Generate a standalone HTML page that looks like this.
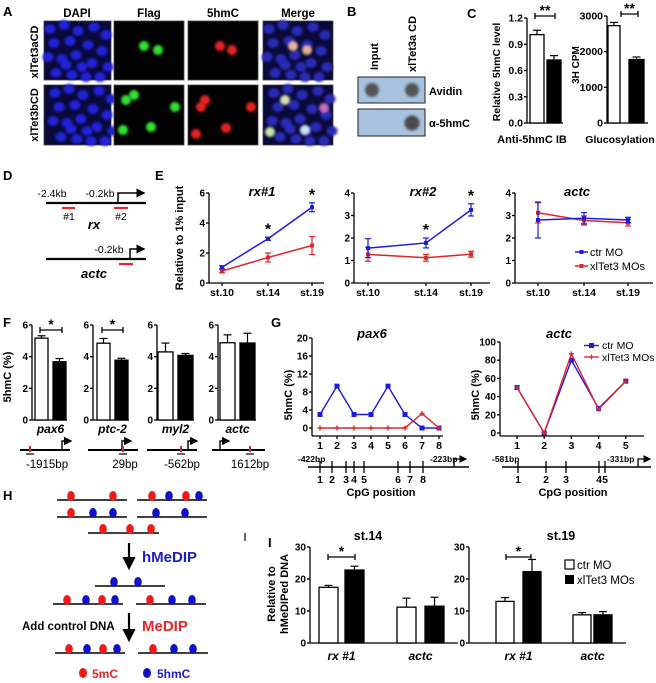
<!DOCTYPE html>
<html><head><meta charset="utf-8">
<style>
html,body{margin:0;padding:0;background:#fff;}
svg{display:block;font-family:"Liberation Sans",Arial,sans-serif;}
</style></head>
<body>
<svg id="fig" width="656" height="683" viewBox="0 0 656 683" xmlns="http://www.w3.org/2000/svg">
<defs>
<filter id="blur" x="-50%" y="-50%" width="200%" height="200%"><feGaussianBlur stdDeviation="1.4"/></filter>
<marker id="ah" markerWidth="6" markerHeight="6" refX="5" refY="3" orient="auto"><path d="M0,0 L6,3 L0,6 Z" fill="#000"/></marker>
</defs>
</svg>
<script>
// ---------------- data ----------------
const cGroups = ['ctr', 'xlTet3'];
const cIB = [1.01, 0.72];
const cIBErr = [0.05, 0.05];
const cIBTicks = [0, 0.3, 0.6, 0.9, 1.2];
const cGlu = [2730, 1780];
const cGluErr = [90, 70];
const cGluTicks = [0, 1000, 2000, 3000];

const eStages = ['st.10', 'st.14', 'st.19'];
const rx1Ctr = [1.05, 2.95, 5.05];
const rx1CtrErr = [0.1, 0.1, 0.3];
const rx1Tet = [0.8, 1.7, 2.5];
const rx1TetErr = [0.12, 0.3, 0.6];
const rx2Ctr = [1.55, 1.78, 3.25];
const rx2CtrErr = [0.42, 0.22, 0.27];
const rx2Tet = [1.27, 1.12, 1.28];
const rx2TetErr = [0.3, 0.15, 0.13];
const eActcCtr = [2.8, 2.88, 2.8];
const eActcCtrErr = [0.8, 0.25, 0.12];
const eActcTet = [3.12, 2.78, 2.68];
const eActcTetErr = [0.45, 0.2, 0.15];
const rx1Ticks = [0, 2, 4, 6];
const rx2Ticks = [0, 1, 2, 3, 4];

const fGenes = ['pax6', 'ptc-2', 'myl2', 'actc'];
const fBp = ['-1915bp', '29bp', '-562bp', '1612bp'];
const fCtr = [5.17, 4.85, 4.3, 4.88];
const fCtrErr = [0.15, 0.3, 0.56, 0.5];
const fTet = [3.68, 3.78, 4.08, 4.86];
const fTetErr = [0.2, 0.12, 0.12, 0.62];
const fTicks = [0, 2, 4, 6];

const gPax6Pos = [1, 2, 3, 4, 5, 6, 7, 8];
const gPax6Ctr = [3, 9.3, 3, 3, 9.3, 3, 0, 0];
const gPax6Tet = [0, 0, 0, 0, 0, 0, 3.2, 0];
const gPax6Ticks = [0, 4, 8, 12, 16, 20];
const gActcPos = [1, 2, 3, 4, 5];
const gActcCtr = [50, 0, 80, 27, 57];
const gActcTet = [50, 0, 87, 26, 57];
const gActcTicks = [0, 20, 40, 60, 80, 100];

const iGenes = ['rx #1', 'actc'];
const iSt14Ctr = [17.4, 11.2];
const iSt14CtrErr = [0.6, 2.8];
const iSt14Tet = [22.8, 11.5];
const iSt14TetErr = [1.2, 2.8];
const iSt19Ctr = [13, 8.8];
const iSt19CtrErr = [1.2, 0.7];
const iSt19Tet = [22.3, 8.8];
const iSt19TetErr = [3.8, 1.0];
const iTicks = [0, 10, 20, 30];

// ---------------- helpers ----------------
const NS = 'http://www.w3.org/2000/svg';
const svg = document.getElementById('fig');
const BLUE = '#1c1ce0', RED = '#e3262b';
function mk(tag, attrs, name) {
  const el = document.createElementNS(NS, tag);
  for (const k in attrs) el.setAttribute(k, attrs[k]);
  
  
  svg.appendChild(el);
  return el;
}
function line(x1, y1, x2, y2, name, stroke, w) {
  return mk('line', {x1: x1, y1: y1, x2: x2, y2: y2, stroke: stroke || '#000', 'stroke-width': w || 1.3}, name);
}
function txt(x, y, s, name, o) {
  o = o || {};
  const el = mk('text', {x: x, y: y, 'font-size': o.size || 11, 'font-weight': o.weight || 'bold',
    'font-style': o.italic ? 'italic' : 'normal', fill: o.fill || '#000', 'text-anchor': o.anchor || 'start'}, name);
  if (o.rot) el.setAttribute('transform', 'rotate(-90 ' + x + ' ' + y + ')');
  el.textContent = s;
  return el;
}
function yAxis(ax, y0, yTop, max, ticks, name, fmt, fs) {
  const sy = v => y0 - v / max * (y0 - yTop);
  line(ax, y0, ax, yTop, name + '-y-axis');
  ticks.forEach(t => {
    line(ax - 3, sy(t), ax, sy(t), name + '-y-tick');
    txt(ax - 4, sy(t) + 3.5, fmt ? fmt(t) : String(t), name + '-y-tick-label', {size: fs || 10, anchor: 'end'});
  });
  return sy;
}
function errBar(x, y1, y2, name, color, cap) {
  line(x, y1, x, y2, name, color, 1.2);
  line(x - cap, y2, x + cap, y2, name + '-cap', color, 1.2);
}
function bar(x, w, y0, yv, fill, name) {
  return mk('rect', {x: x, y: yv, width: w, height: y0 - yv, fill: fill, stroke: '#000', 'stroke-width': 1.3}, name);
}
function sigBracket(x1, x2, y, s, name) {
  line(x1, y, x2, y, name + '-line');
  line(x1, y - 3, x1, y + 3, name + '-tick');
  line(x2, y - 3, x2, y + 3, name + '-tick');
  txt((x1 + x2) / 2, y - 1, s, name + '-star', {size: 14, anchor: 'middle'});
}

// ---------------- panel labels ----------------
[['A', 3, 16], ['B', 347, 16], ['C', 467, 18], ['D', 3, 180], ['E', 155, 180], ['F', 3, 327], ['G', 271, 327], ['H', 3, 500], ['I', 268, 547]].forEach(p => {
  txt(p[1], p[2], p[0], 'panel-label-' + p[0].toLowerCase(), {size: 13});
});

// ---------------- panel A (microscopy) ----------------
const aHeads = [['DAPI', 77], ['Flag', 149], ['5hmC', 223], ['Merge', 298]];
aHeads.forEach(h => txt(h[1], 17, h[0], 'column-header', {size: 11.5, anchor: 'middle'}));
txt(38, 52, 'xlTet3aCD', 'row-label-xltet3acd', {size: 11, anchor: 'middle', rot: true});
txt(38, 115, 'xlTet3bCD', 'row-label-xltet3bcd', {size: 11, anchor: 'middle', rot: true});
const aCols = [44, 114, 188, 263];
const aRows = [[21, 80], [85, 145]];
const dapiSpots = [[6,8],[20,4],[34,10],[50,6],[62,14],[10,22],[26,20],[44,24],[58,30],[4,36],[18,38],[32,34],[48,42],[64,46],[12,52],[28,54],[42,56],[56,56],[22,44],[38,46]];
const greenSpots = [[[144,46],[158,50]], [[134,95],[126,100],[175,107],[123,130],[151,127]]];
const redSpots = [[[220,46],[232,50]], [[205,100],[201,107],[251,107],[196,134],[226,128]]];
const mergeSpots = [[[293,46,'#e8b39a'],[307,50,'#e0b090']], [[285,100,'#d0e0b0'],[324,108,'#c070c0'],[270,132,'#c8e0a8'],[305,130,'#d0e0f0']]];
aRows.forEach((r, ri) => {
  aCols.forEach((cx, ci) => {
    const w = ci === 0 ? 67 : 70;
    const bg = (ci === 0 || ci === 3) ? '#0a0a3a' : '#020202';
    mk('rect', {x: cx, y: r[0], width: w, height: r[1] - r[0], fill: bg, stroke: '#444', 'stroke-width': 0.8}, 'micrograph-' + ['dapi','flag','5hmc','merge'][ci]);
    if (ci === 0 || ci === 3) {
      dapiSpots.forEach(s => mk('ellipse', {cx: cx + s[0] + (ri * 5) % 9, cy: r[0] + s[1], rx: 5.5, ry: 5, fill: ci === 0 ? '#2020d8' : '#2a2ab8', filter: 'url(#blur)'}, 'nucleus'));
    }
  });
  greenSpots[ri].forEach(s => mk('ellipse', {cx: s[0], cy: s[1], rx: 5, ry: 5, fill: '#30e030', filter: 'url(#blur)'}, 'flag-signal'));
  redSpots[ri].forEach(s => mk('ellipse', {cx: s[0], cy: s[1], rx: 5, ry: 5, fill: '#e82020', filter: 'url(#blur)'}, '5hmc-signal'));
  mergeSpots[ri].forEach(s => mk('ellipse', {cx: s[0], cy: s[1], rx: 5, ry: 5, fill: s[2], filter: 'url(#blur)'}, 'merge-signal'));
});

// ---------------- panel B (dot blot) ----------------
txt(378, 70, 'Input', 'blot-label-input', {size: 11, rot: true});
txt(416, 72, 'xlTet3a CD', 'blot-label-xltet3a', {size: 11, rot: true});
mk('rect', {x: 358, y: 77, width: 67, height: 26, fill: '#a8c2df', stroke: '#222', 'stroke-width': 1}, 'blot-avidin');
mk('rect', {x: 358, y: 109, width: 67, height: 27, fill: '#a8c2df', stroke: '#222', 'stroke-width': 1}, 'blot-5hmc');
mk('circle', {cx: 372, cy: 90, r: 7, fill: '#555', filter: 'url(#blur)'}, 'dot-input-avidin');
mk('circle', {cx: 412, cy: 90, r: 7, fill: '#555', filter: 'url(#blur)'}, 'dot-xltet3a-avidin');
mk('circle', {cx: 412, cy: 123, r: 7.5, fill: '#4a4a4a', filter: 'url(#blur)'}, 'dot-xltet3a-5hmc');
txt(429, 95, 'Avidin', 'blot-row-label-avidin', {size: 11});
txt(429, 127, 'α-5hmC', 'blot-row-label-5hmc', {size: 11});

// ---------------- panel C ----------------
(function () {
  const y0 = 123, yTop = 18;
  const sy1 = yAxis(527, y0, yTop, 1.2, cIBTicks, 'c-ib', t => t.toFixed(1), 10.5);
  const bx1 = [530, 547];
  line(527, y0, 563, y0, 'c-ib-x-axis');
  cIB.forEach((v, i) => {
    bar(bx1[i], 14, y0, sy1(v), i ? '#000' : '#fff', 'c-ib-bar-' + cGroups[i]);
    errBar(bx1[i] + 7, sy1(v), sy1(v + cIBErr[i]), 'c-ib-error', '#000', 4);
  });
  sigBracket(535, 555, 16, '**', 'c-ib-sig');
  txt(500, 72, 'Relative 5hmC level', 'c-ib-y-title', {size: 10.5, anchor: 'middle', rot: true});
  txt(532, 143, 'Anti-5hmC IB', 'c-ib-x-title', {size: 11, anchor: 'middle'});

  const sy2 = yAxis(607, y0, 16, 3000, cGluTicks, 'c-glu', null, 10.5);
  const bx2 = [608, 629];
  line(607, y0, 648, y0, 'c-glu-x-axis');
  cGlu.forEach((v, i) => {
    bar(bx2[i], i ? 15 : 12, y0, sy2(v), i ? '#000' : '#fff', 'c-glu-bar-' + cGroups[i]);
    errBar(bx2[i] + (i ? 7.5 : 6), sy2(v), sy2(v + cGluErr[i]), 'c-glu-error', '#000', 4);
  });
  sigBracket(621, 638, 14, '**', 'c-glu-sig');
  txt(579, 65, '3H CPM', 'c-glu-y-title', {size: 10, anchor: 'middle', rot: true});
  txt(620, 143, 'Glucosylation', 'c-glu-x-title', {size: 10.5, anchor: 'middle'});
})();

// ---------------- panel D (schematics) ----------------
line(46, 203, 146, 203, 'rx-gene-line', '#000', 2.2);
txt(52, 197, '-2.4kb', 'rx-label-2-4kb', {size: 10.5, weight: 'normal', anchor: 'middle'});
txt(100, 197, '-0.2kb', 'rx-label-0-2kb', {size: 10.5, weight: 'normal', anchor: 'middle'});
mk('path', {d: 'M118,203 V193 H144', fill: 'none', stroke: '#000', 'stroke-width': 1.5, 'marker-end': 'url(#ah)'}, 'rx-tss-arrow');
line(62, 208, 75, 208, 'rx-amplicon-1', RED, 2.2);
line(114, 208, 128, 208, 'rx-amplicon-2', RED, 2.2);
txt(69, 220, '#1', 'rx-amplicon-1-label', {size: 10.5, weight: 'normal', anchor: 'middle'});
txt(121, 220, '#2', 'rx-amplicon-2-label', {size: 10.5, weight: 'normal', anchor: 'middle'});
txt(94, 229, 'rx', 'rx-gene-name', {size: 13, italic: true, anchor: 'middle'});
line(46, 259, 146, 259, 'actc-gene-line', '#000', 2.2);
txt(109, 253, '-0.2kb', 'actc-label-0-2kb', {size: 10.5, weight: 'normal', anchor: 'middle'});
mk('path', {d: 'M130,259 V249 H144', fill: 'none', stroke: '#000', 'stroke-width': 1.5, 'marker-end': 'url(#ah)'}, 'actc-tss-arrow');
line(119, 264, 133, 264, 'actc-amplicon', RED, 2.2);
txt(94, 278, 'actc', 'actc-gene-name', {size: 13, italic: true, anchor: 'middle'});

// ---------------- panel E (line charts) ----------------
function lineChart(cfg, ctr, ctrErr, tet, tetErr) {
  const sy = yAxis(cfg.ax, cfg.y0, cfg.yTop, cfg.max, cfg.ticks, cfg.name);
  line(cfg.ax, cfg.y0, cfg.xEnd, cfg.y0, cfg.name + '-x-axis');
  const sx = i => cfg.xs[0] + i * (cfg.xs[1] - cfg.xs[0]) * (i === 2 ? (cfg.xs[2] - cfg.xs[0]) / (2 * (cfg.xs[1] - cfg.xs[0])) : 1);
  eStages.forEach((s, i) => {
    line(sx(i), cfg.y0, sx(i), cfg.y0 + 3, cfg.name + '-x-tick');
    txt(sx(i), cfg.y0 + 13, s, cfg.name + '-x-tick-label', {size: 10.5, anchor: 'middle'});
  });
  [[tet, tetErr, RED], [ctr, ctrErr, BLUE]].forEach((ser, k) => {
    const pts = ser[0].map((v, i) => sx(i) + ',' + sy(v)).join(' ');
    mk('polyline', {points: pts, fill: 'none', stroke: ser[2], 'stroke-width': 1.5}, cfg.name + (k ? '-ctr-line' : '-xltet3-line'));
    ser[0].forEach((v, i) => {
      errBar(sx(i), sy(v - ser[1][i]), sy(v + ser[1][i]), cfg.name + '-error', ser[2], 3);
      line(sx(i) - 3, sy(v - ser[1][i]), sx(i) + 3, sy(v - ser[1][i]), cfg.name + '-error-cap', ser[2], 1.2);
      mk('rect', {x: sx(i) - 2, y: sy(v) - 2, width: 4, height: 4, fill: ser[2]}, cfg.name + (k ? '-ctr-point' : '-xltet3-point'));
    });
  });
  txt(cfg.titleX, 196, cfg.title, cfg.name + '-title', {size: 13, italic: true, anchor: 'middle'});
  (cfg.stars || []).forEach(i => txt(sx(i), sy(ctr[i] + ctrErr[i]) - 3, '*', cfg.name + '-star', {size: 16, anchor: 'middle'}));
  return sx;
}
lineChart({name: 'e-rx1', ax: 209, y0: 283, yTop: 193, max: 6, ticks: rx1Ticks, xs: [222, 268, 312], xEnd: 324, title: 'rx#1', titleX: 262, stars: [1, 2]}, rx1Ctr, rx1CtrErr, rx1Tet, rx1TetErr);
lineChart({name: 'e-rx2', ax: 354, y0: 283, yTop: 193, max: 4, ticks: rx2Ticks, xs: [368, 426, 471], xEnd: 490, title: 'rx#2', titleX: 423, stars: [1, 2]}, rx2Ctr, rx2CtrErr, rx2Tet, rx2TetErr);
lineChart({name: 'e-actc', ax: 515, y0: 283, yTop: 193, max: 4, ticks: rx2Ticks, xs: [538, 584, 628], xEnd: 653, title: 'actc', titleX: 577}, eActcCtr, eActcCtrErr, eActcTet, eActcTetErr);
txt(183, 238, 'Relative to 1% input', 'e-y-title', {size: 11, anchor: 'middle', rot: true});
line(575, 252, 588, 252, 'e-legend-ctr-swatch', BLUE, 1.5);
mk('rect', {x: 579.5, y: 250, width: 4, height: 4, fill: BLUE}, 'e-legend-ctr-marker');
txt(590, 256, 'ctr MO', 'e-legend-ctr-label', {size: 11, weight: 'normal'});
line(575, 266, 588, 266, 'e-legend-xltet3-swatch', RED, 1.5);
mk('rect', {x: 579.5, y: 264, width: 4, height: 4, fill: RED}, 'e-legend-xltet3-marker');
txt(590, 270, 'xlTet3 MOs', 'e-legend-xltet3-label', {size: 11, weight: 'normal'});

// ---------------- panel F ----------------
(function () {
  const y0 = 420, yTop = 325;
  const axes = [32, 93, 157, 218];
  const wx = [35, 97, 158, 220], bx = [53, 115, 178, 240];
  const ws = [13, 13, 15, 15];
  fGenes.forEach((g, i) => {
    const sy = yAxis(axes[i], y0, yTop, 6, fTicks, 'f-' + g);
    line(axes[i], y0, bx[i] + ws[i] + 1, y0, 'f-' + g + '-x-axis');
    bar(wx[i], ws[i], y0, sy(fCtr[i]), '#fff', 'f-bar-ctr-' + g);
    errBar(wx[i] + ws[i] / 2, sy(fCtr[i]), sy(fCtr[i] + fCtrErr[i]), 'f-error', '#000', 4);
    bar(bx[i], ws[i], y0, sy(fTet[i]), '#000', 'f-bar-xltet3-' + g);
    errBar(bx[i] + ws[i] / 2, sy(fTet[i]), sy(fTet[i] + fTetErr[i]), 'f-error', '#000', 4);
    txt(wx[i] + (bx[i] + ws[i] - wx[i]) / 2, 433, g, 'f-gene-label', {size: 12, italic: true, anchor: 'middle'});
  });
  sigBracket(40, 62, 330, '*', 'f-pax6-sig');
  sigBracket(102, 123, 330, '*', 'f-ptc2-sig');
  txt(11, 377, '5hmC (%)', 'f-y-title', {size: 11, anchor: 'middle', rot: true});
  const sch = [[20, 70, 62, 1, 30], [88, 138, 122, 1, 123], [147, 197, 188, 1, 181], [212, 265, 220, 1, 250]];
  sch.forEach((s, i) => {
    line(s[0], 450, s[1], 450, 'f-promoter-line', '#000', 2);
    mk('path', {d: 'M' + s[2] + ',450 V441 H' + (s[2] + 9), fill: 'none', stroke: '#000', 'stroke-width': 1.4, 'marker-end': 'url(#ah)'}, 'f-tss-arrow');
    line(s[4], 446, s[4], 452, 'f-site-mark', RED, 2);
    line(s[4] - 4, 454, s[4] + 4, 454, 'f-site-underline', '#000', 1.2);
  });
  const bpX = [47, 125, 182, 250];
  fBp.forEach((b, i) => txt(bpX[i], 468, b, 'f-position-label', {size: 11.5, weight: 'normal', anchor: 'middle'}));
})();

// ---------------- panel G ----------------
function cpgChart(cfg, pos, ctr, tet) {
  const sy = yAxis(cfg.ax, cfg.y0, cfg.yTop, cfg.max, cfg.ticks, cfg.name);
  line(cfg.ax, cfg.xAxisY, cfg.xEnd, cfg.xAxisY, cfg.name + '-x-axis');
  line(cfg.ax, cfg.y0, cfg.ax, cfg.xAxisY, cfg.name + '-y-axis-ext');
  const sx = p => cfg.x1 + (p - 1) * cfg.step;
  pos.forEach(p => {
    line(sx(p), cfg.xAxisY, sx(p), cfg.xAxisY + 3, cfg.name + '-x-tick');
    txt(sx(p), cfg.xAxisY + 13, String(p), cfg.name + '-x-tick-label', {size: 10.5, anchor: 'middle'});
  });
  [[ctr, BLUE, 'ctr'], [tet, RED, 'xltet3']].forEach(ser => {
    mk('polyline', {points: ser[0].map((v, i) => sx(pos[i]) + ',' + sy(v)).join(' '), fill: 'none', stroke: ser[1], 'stroke-width': 1.4}, cfg.name + '-' + ser[2] + '-line');
    ser[0].forEach((v, i) => {
      if (ser[2] === 'ctr') mk('rect', {x: sx(pos[i]) - 2.5, y: sy(v) - 2.5, width: 5, height: 5, fill: ser[1]}, cfg.name + '-ctr-point');
      else {
        line(sx(pos[i]) - 2.5, sy(v), sx(pos[i]) + 2.5, sy(v), cfg.name + '-xltet3-point', ser[1], 1.4);
        line(sx(pos[i]), sy(v) - 2.5, sx(pos[i]), sy(v) + 2.5, cfg.name + '-xltet3-point', ser[1], 1.4);
      }
    });
  });
  txt(cfg.titleX, 338, cfg.title, cfg.name + '-title', {size: 13, italic: true, anchor: 'middle'});
  txt(cfg.ylabX, 395, '5hmC (%)', cfg.name + '-y-title', {size: 11, anchor: 'middle', rot: true});
}
cpgChart({name: 'g-pax6', ax: 312, y0: 428, yTop: 338, max: 20, ticks: gPax6Ticks, xAxisY: 436, xEnd: 443, x1: 320, step: 17, title: 'pax6', titleX: 372, ylabX: 292}, gPax6Pos, gPax6Ctr, gPax6Tet);
cpgChart({name: 'g-actc', ax: 500, y0: 433, yTop: 342, max: 100, ticks: gActcTicks, xAxisY: 436, xEnd: 644, x1: 517, step: 27.2, title: 'actc', titleX: 559, ylabX: 479}, gActcPos, gActcCtr, gActcTet);
mk('rect', {x: 589, y: 343, width: 5, height: 5, fill: BLUE}, 'g-legend-ctr-marker');
line(584, 345.5, 599, 345.5, 'g-legend-ctr-swatch', BLUE, 1.4);
txt(602, 349, 'ctr MO', 'g-legend-ctr-label', {size: 10.5, weight: 'normal'});
line(584, 357, 599, 357, 'g-legend-xltet3-swatch', RED, 1.4);
line(591.5, 354.5, 591.5, 359.5, 'g-legend-xltet3-marker', RED, 1.4);
txt(602, 361, 'xlTet3 MOs', 'g-legend-xltet3-label', {size: 10.5, weight: 'normal'});
function cpgMap(x1, x2, arrowX, lab1, lab2, lab2X, ticks, nums, cx, name) {
  line(x1, 467, x2, 467, name + '-line', '#000', 1.6);
  mk('path', {d: 'M' + arrowX + ',467 V459 H' + (arrowX + 12), fill: 'none', stroke: '#000', 'stroke-width': 1.3, 'marker-end': 'url(#ah)'}, name + '-tss-arrow');
  txt(x1 - 10, 462, lab1, name + '-start-label', {size: 8.5});
  txt(lab2X, 462, lab2, name + '-end-label', {size: 8.5});
  ticks.forEach((t, i) => {
    line(t, 461, t, 473, name + '-cpg-tick', '#000', 1.3);
    txt(t, 483, nums[i], name + '-cpg-number', {size: 10.5, anchor: 'middle'});
  });
  txt(cx, 496, 'CpG position', name + '-x-title', {size: 11, anchor: 'middle'});
}
cpgMap(308, 469, 454, '-422bp', '-223bp', 430, [320, 332, 346, 354, 364, 398, 410, 423], ['1','2','3','4','5','6','7','8'], 381, 'g-pax6-map');
cpgMap(502, 651, 638, '-581bp', '-331bp', 607, [518, 546, 566, 599, 605], ['1','2','3','4','5'], 573, 'g-actc-map');

// ---------------- panel H (schematic) ----------------
const hDna = [[57,127,500,[[71,'r'],[113,'r']]],[137,207,500,[[152,'r'],[169,'b'],[186,'r'],[199,'b']]],
  [57,127,517,[[71,'r'],[93,'b'],[113,'b']]],[137,207,517,[[156,'b'],[185,'b']]],[88,159,533,[[103,'r'],[130,'r'],[151,'r']]],
  [95,165,586,[[114,'b'],[138,'b']]],[53,123,604,[[67,'r'],[86,'b'],[102,'r'],[115,'b']]],[136,206,604,[[150,'r'],[172,'b'],[192,'b']]],
  [55,125,653,[[69,'r'],[87,'b'],[103,'r'],[117,'b']]],[138,208,653,[[153,'r'],[174,'b'],[193,'b']]]];
hDna.forEach(d => {
  line(d[0], d[2], d[1], d[2], 'dna-fragment', '#000', 1.6);
  d[3].forEach(m => mk('ellipse', {cx: m[0], cy: d[2] - 4, rx: 3.8, ry: 5, fill: m[1] === 'r' ? '#f01818' : '#1010c8'}, m[1] === 'r' ? '5mc-site' : '5hmc-site'));
});
line(129, 543, 129, 568, 'hmedip-arrow', '#000', 2.2).setAttribute('marker-end', 'url(#ah)');
txt(142, 562, 'hMeDIP', 'hmedip-label', {size: 15, fill: '#1c1cc8'});
line(129, 613, 129, 640, 'medip-arrow', '#000', 2.2).setAttribute('marker-end', 'url(#ah)');
txt(142, 631, 'MeDIP', 'medip-label', {size: 15, fill: RED});
txt(22, 630, 'Add control DNA', 'add-control-dna-label', {size: 11.5});
mk('ellipse', {cx: 83, cy: 673, rx: 4, ry: 5, fill: '#f01818'}, 'h-legend-5mc-marker');
txt(92, 678, '5mC', 'h-legend-5mc-label', {size: 12, fill: RED});
mk('ellipse', {cx: 147, cy: 673, rx: 4, ry: 5, fill: '#1010c8'}, 'h-legend-5hmc-marker');
txt(157, 678, '5hmC', 'h-legend-5hmc-label', {size: 12, fill: '#1c1cc8'});

// ---------------- panel I ----------------
function iChart(cfg, ctr, ctrErr, tet, tetErr) {
  const sy = yAxis(cfg.ax, 643, 547, 30, iTicks, cfg.name);
  line(cfg.ax, 643, cfg.xEnd, 643, cfg.name + '-x-axis');
  iGenes.forEach((g, i) => {
    bar(cfg.wx[i], cfg.w, 643, sy(ctr[i]), '#fff', cfg.name + '-bar-ctr-' + i);
    errBar(cfg.wx[i] + cfg.w / 2, sy(ctr[i]), sy(ctr[i] + ctrErr[i]), cfg.name + '-error', '#000', 4);
    bar(cfg.bx[i], cfg.w, 643, sy(tet[i]), '#000', cfg.name + '-bar-xltet3-' + i);
    errBar(cfg.bx[i] + cfg.w / 2, sy(tet[i]), sy(tet[i] + tetErr[i]), cfg.name + '-error', '#000', 4);
    txt((cfg.wx[i] + cfg.bx[i] + cfg.w) / 2, 660, g, cfg.name + '-x-label', {size: 12, italic: true, anchor: 'middle'});
  });
  sigBracket(cfg.sig[0], cfg.sig[1], 557, '*', cfg.name + '-sig');
  txt(cfg.titleX, 540, cfg.title, cfg.name + '-title', {size: 12.5, anchor: 'middle'});
}
iChart({name: 'i-st14', ax: 310, xEnd: 458, wx: [319, 397], bx: [345, 425], w: 19, sig: [328, 355], title: 'st.14', titleX: 368}, iSt14Ctr, iSt14CtrErr, iSt14Tet, iSt14TetErr);
iChart({name: 'i-st19', ax: 469, xEnd: 626, wx: [496, 573], bx: [523, 594], w: 18, sig: [506, 531], title: 'st.19', titleX: 561}, iSt19Ctr, iSt19CtrErr, iSt19Tet, iSt19TetErr);
txt(275, 594, 'Relative to', 'i-y-title-line1', {size: 11, anchor: 'middle', rot: true});
txt(288, 594, 'hMeDIPed DNA', 'i-y-title-line2', {size: 11, anchor: 'middle', rot: true});
mk('rect', {x: 565, y: 560, width: 9, height: 9, fill: '#fff', stroke: '#000', 'stroke-width': 1.2}, 'i-legend-ctr-swatch');
txt(577, 569, 'ctr MO', 'i-legend-ctr-label', {size: 11.5, weight: 'normal'});
mk('rect', {x: 565, y: 575, width: 9, height: 9, fill: '#000'}, 'i-legend-xltet3-swatch');
txt(577, 584, 'xlTet3 MOs', 'i-legend-xltet3-label', {size: 11.5, weight: 'normal'});
line(245, 533, 245, 541, 'panel-divider', '#000', 1.2);
</script>
</body></html>
